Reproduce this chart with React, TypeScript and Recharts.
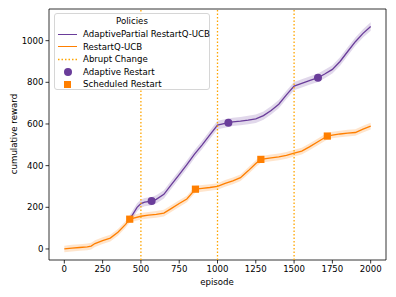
import React from "react";
import {
  Area,
  ComposedChart,
  Line,
  ReferenceArea,
  ReferenceLine,
  Scatter,
  XAxis,
  YAxis,
} from "recharts";

const purple = "#6a3d9a";
const orange = "#ff7f00";
const changeColor = "#ffa500";
const font = "'DejaVu Sans', sans-serif";

// RestartQ-UCB
const restartEpisodes = [
  0, 50, 100, 150, 175, 200, 250, 300, 350, 400, 427, 500, 550, 600, 650, 700, 750, 800, 856, 900, 950,
  1000, 1050, 1100, 1150, 1200, 1250, 1283, 1350, 1400, 1450, 1500, 1550, 1600, 1650, 1717, 1750, 1800,
  1850, 1900, 1950, 2000,
];
const restartReward = [
  0, 4, 7, 10, 14, 26, 40, 52, 80, 118, 143, 157, 162, 166, 172, 195, 218, 240, 287, 291, 295,
  300, 315, 327, 342, 375, 410, 430, 437, 442, 449, 460, 470, 490, 512, 542, 547, 552,
  556, 559, 575, 590,
];
const restartSpread = 16;

// AdaptivePartial RestartQ-UCB (splits off at the first restart)
const adaptiveEpisodes = [
  427, 450, 475, 500, 525, 570, 600, 650, 700, 750, 800, 850, 900, 950, 1000, 1071, 1100, 1150, 1200,
  1250, 1300, 1350, 1400, 1450, 1500, 1550, 1600, 1656, 1700, 1750, 1800, 1850, 1900, 1950, 2000,
];
const adaptiveReward = [
  143, 170, 200, 218, 225, 230, 238, 262, 310, 357, 405, 455, 500, 548, 595, 606, 610, 614, 619,
  625, 640, 665, 695, 740, 782, 795, 808, 822, 840, 862, 900, 948, 995, 1035, 1068,
];
const adaptiveSpread = 20;

const abruptChanges = [500, 1000, 1500];
const adaptiveRestartEpisodes = [570, 1071, 1656];
const adaptiveRestartReward = [230, 606, 822];
const scheduledRestartEpisodes = [427, 856, 1283, 1717];
const scheduledRestartReward = [143, 287, 430, 542];

const xTicks = [0, 250, 500, 750, 1000, 1250, 1500, 1750, 2000];
const yTicks = [0, 200, 400, 600, 800, 1000];

const restartData = restartEpisodes.map((ep, i) => ({
  ep,
  v: restartReward[i],
  band: [restartReward[i] - restartSpread, restartReward[i] + restartSpread],
}));
const adaptiveData = adaptiveEpisodes.map((ep, i) => ({
  ep,
  v: adaptiveReward[i],
  band: [adaptiveReward[i] - adaptiveSpread, adaptiveReward[i] + adaptiveSpread],
}));
const adaptiveRestarts = adaptiveRestartEpisodes.map((ep, i) => ({ ep, v: adaptiveRestartReward[i] }));
const scheduledRestarts = scheduledRestartEpisodes.map((ep, i) => ({ ep, v: scheduledRestartReward[i] }));

const tickStyle = { fill: "#000", fontSize: 8.6, fontFamily: font };

function Circle(props: any) {
  return <circle cx={props.cx} cy={props.cy} r={4} fill={purple} />;
}

function Square(props: any) {
  return <rect x={props.cx - 3.6} y={props.cy - 3.6} width={7.2} height={7.2} fill={orange} />;
}

function PolicyLegend() {
  const row = { display: "flex", alignItems: "center", height: 12.5 };
  const handle = { width: 19, marginRight: 6, display: "flex", justifyContent: "center" };
  return (
    <div
      style={{
        position: "absolute",
        left: 54,
        top: 13,
        width: 156,
        height: 77,
        boxSizing: "border-box",
        border: "1px solid #d6d6d6",
        borderRadius: 3,
        background: "rgba(255,255,255,0.85)",
        fontFamily: font,
        fontSize: 8.6,
        color: "#000",
        padding: "1px 0 0 3px",
        whiteSpace: "nowrap",
      }}
    >
      <div style={{ textAlign: "center", height: 13, lineHeight: "13px", marginLeft: -3 }}>Policies</div>
      <div style={row}>
        <span style={handle}><span style={{ width: 19, height: 1.4, background: purple }} /></span>
        AdaptivePartial RestartQ-UCB
      </div>
      <div style={row}>
        <span style={handle}><span style={{ width: 19, height: 1.4, background: orange }} /></span>
        RestartQ-UCB
      </div>
      <div style={row}>
        <span style={handle}>
          <svg width={19} height={3}>
            <line x1={0} y1={1.5} x2={19} y2={1.5} stroke={changeColor} strokeWidth={1.3} strokeDasharray="1.5 2" />
          </svg>
        </span>
        Abrupt Change
      </div>
      <div style={row}>
        <span style={handle}>
          <span style={{ width: 8, height: 8, borderRadius: "50%", background: purple }} />
        </span>
        Adaptive Restart
      </div>
      <div style={row}>
        <span style={handle}><span style={{ width: 7, height: 7, background: orange }} /></span>
        Scheduled Restart
      </div>
    </div>
  );
}

export default function App() {
  return (
    <div style={{ position: "absolute", left: 0, top: 0, width: 396, height: 297, background: "#fff" }}>
      <ComposedChart width={396} height={297} margin={{ top: 9, right: 10, bottom: 0, left: 0 }}>
        <XAxis
          dataKey="ep"
          type="number"
          domain={[-100, 2100]}
          ticks={xTicks}
          allowDataOverflow
          height={37}
          axisLine={false}
          tickSize={3.5}
          tickMargin={2}
          tick={tickStyle}
          tickLine={{ stroke: "#000", strokeWidth: 0.8 }}
        />
        <YAxis
          type="number"
          domain={[-53, 1152]}
          ticks={yTicks}
          allowDataOverflow
          width={49}
          axisLine={false}
          tickSize={3.5}
          tickMargin={2}
          tick={tickStyle}
          tickLine={{ stroke: "#000", strokeWidth: 0.8 }}
        />
        <Area
          data={adaptiveData}
          dataKey="band"
          stroke="none"
          fill={purple}
          fillOpacity={0.2}
          type="linear"
          isAnimationActive={false}
        />
        <Line
          data={adaptiveData}
          dataKey="v"
          stroke={purple}
          strokeWidth={1.3}
          dot={false}
          type="linear"
          isAnimationActive={false}
        />
        <Area
          data={restartData}
          dataKey="band"
          stroke="none"
          fill={orange}
          fillOpacity={0.2}
          type="linear"
          isAnimationActive={false}
        />
        <Line
          data={restartData}
          dataKey="v"
          stroke={orange}
          strokeWidth={1.3}
          dot={false}
          type="linear"
          isAnimationActive={false}
        />
        {abruptChanges.map((x) => (
          <ReferenceLine key={x} x={x} stroke={changeColor} strokeWidth={1.3} strokeDasharray="1.5 2" />
        ))}
        <Scatter data={adaptiveRestarts} dataKey="v" shape={Circle} isAnimationActive={false} />
        <Scatter data={scheduledRestarts} dataKey="v" shape={Square} isAnimationActive={false} />
        <ReferenceArea
          x1={-100}
          x2={2100}
          y1={-53}
          y2={1152}
          fill="none"
          stroke="#000"
          strokeWidth={0.8}
          ifOverflow="visible"
        />
        <text x={217} y={285} textAnchor="middle" fontSize={8.6} fontFamily={font} fill="#000">
          episode
        </text>
        <text
          x={14}
          y={134}
          textAnchor="middle"
          fontSize={8.6}
          fontFamily={font}
          fill="#000"
          transform="rotate(-90 14 134)"
          dominantBaseline="middle"
        >
          cumulative reward
        </text>
      </ComposedChart>
      <PolicyLegend />
    </div>
  );
}
